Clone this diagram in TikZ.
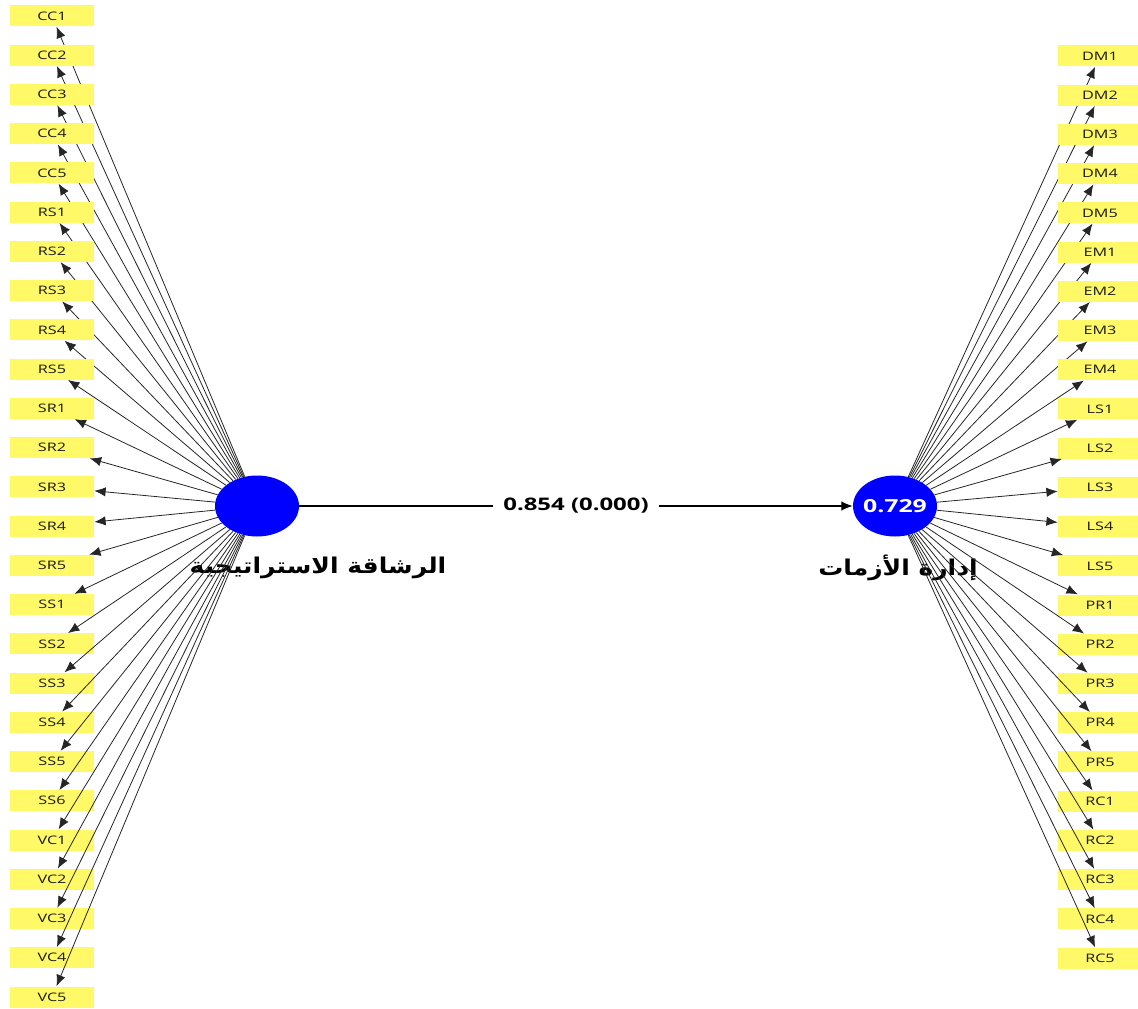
\documentclass[tikz,border=0pt]{standalone}
\usepackage{fontspec}
\setmainfont{Open Sans}[FakeStretch=1.38]
\newfontfamily\arabicfont[Script=Arabic,FakeStretch=1.15]{DejaVu Sans}
\TeXXeTstate=1
\usepackage{tikz}
\usetikzlibrary{arrows.meta,positioning,shapes.geometric}
\definecolor{plsyellow}{HTML}{FFF968}
\definecolor{plsblue}{HTML}{0000FF}
\definecolor{plsline}{HTML}{262626}
\tikzset{
  indicator/.style={fill=plsyellow,minimum width=63pt,minimum height=15.75pt,
    inner sep=0pt,font=\fontsize{8.8}{10}\selectfont,text=black!90},
  construct/.style={ellipse,fill=plsblue,minimum width=63pt,minimum height=45.75pt,
    inner sep=0pt},
  flow/.style={-{Latex[length=8.5pt,width=7pt]},plsline,line width=0.6pt},
  coef/.style={fill=white,inner xsep=8pt,font=\fontsize{13}{15}\selectfont\bfseries},
  title/.style={font=\fontsize{16.3}{19}\selectfont\arabicfont\bfseries}
}
\begin{document}
\begin{tikzpicture}[x=0.75pt,y=-0.75pt]
  \useasboundingbox (0,0) rectangle (1138,1009);
  \node[construct] (agility) at (257,506) {};
  \node[construct,label={[text=white,font=\fontsize{13.5}{15}\selectfont\bfseries]center:0.729}] (crisis) at (895,506) {};
  \node[title] (agilityname) at (318,568) {\beginR الرشاقة الاستراتيجية\endR};
  \node[title] (crisisname) at (898,568) {\beginR إدارة الأزمات\endR};
  % indicators of strategic agility
  \foreach \name [count=\i from 0] in {CC1,CC2,CC3,CC4,CC5,RS1,RS2,RS3,RS4,RS5,
    SR1,SR2,SR3,SR4,SR5,SS1,SS2,SS3,SS4,SS5,SS6,VC1,VC2,VC3,VC4,VC5} {
    \node[indicator] (\name) at (52,16+\i*39.24) {\name};
    \draw[flow] (agility) -- (\name);
  }
  % indicators of crisis management
  \foreach \name [count=\i from 0] in {DM1,DM2,DM3,DM4,DM5,EM1,EM2,EM3,EM4,
    LS1,LS2,LS3,LS4,LS5,PR1,PR2,PR3,PR4,PR5,RC1,RC2,RC3,RC4,RC5} {
    \node[indicator] (\name) at (1100,56+\i*39.22) {\name};
    \draw[flow] (crisis) -- (\name);
  }
  \draw[flow,black,line width=0.8pt] (agility) -- node[coef] {0.854 (0.000)} (crisis);
\end{tikzpicture}
\end{document}
